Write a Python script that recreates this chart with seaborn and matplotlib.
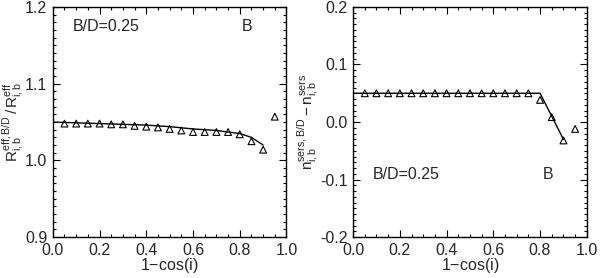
import numpy as np
import pandas as pd
import seaborn as sns
import matplotlib.pyplot as plt
from matplotlib.ticker import MultipleLocator

# Datos
x_tri = [0.05, 0.10, 0.15, 0.20, 0.25, 0.30, 0.35, 0.40, 0.45, 0.50,
         0.55, 0.60, 0.65, 0.70, 0.75, 0.80, 0.85, 0.90, 0.95]
r_tri = [1.048, 1.048, 1.048, 1.048, 1.047, 1.047, 1.045, 1.044, 1.043, 1.041,
         1.039, 1.037, 1.037, 1.037, 1.037, 1.034, 1.025, 1.014, 1.057]
n_tri = [0.05, 0.05, 0.05, 0.05, 0.05, 0.05, 0.05, 0.05, 0.05, 0.05,
         0.05, 0.05, 0.05, 0.05, 0.05, 0.0385, 0.0086, -0.032, -0.012]

x_r_line = [0.0, 0.1, 0.2, 0.3, 0.4, 0.5, 0.6, 0.7, 0.75, 0.8, 0.85, 0.9]
r_line = [1.050, 1.049, 1.048, 1.047, 1.046, 1.044, 1.041, 1.039, 1.037, 1.035, 1.030, 1.020]
x_n_line = [0.0, 0.8, 0.9]
n_line = [0.05, 0.05, -0.03]

sns.set_theme(style="ticks")
plt.rcParams["font.family"] = ["Liberation Sans", "DejaVu Sans"]
plt.rcParams["mathtext.fontset"] = "custom"
plt.rcParams["mathtext.rm"] = "Liberation Sans"
plt.rcParams["mathtext.it"] = "Liberation Sans"

fs = 11.5

fig, axes = plt.subplots(1, 2, figsize=(6.0, 2.78), dpi=100)
fig.subplots_adjust(left=0.088, right=0.978, bottom=0.147, top=0.975, wspace=0.285)

paneles = [
    (axes[0], x_r_line, r_line, r_tri, (0.9, 1.2),
     r"$\mathrm{R^{eff,B/D}_{i,b}\,/\,R^{eff}_{i,b}}$", (0.087, 0.915)),
    (axes[1], x_n_line, n_line, n_tri, (-0.2, 0.2),
     r"$\mathrm{n^{sers,B/D}_{i,b}-n^{sers}_{i,b}}$", (0.085, 0.27)),
]

for ax, xl, yl, ytri, ylim, ylab, pos in paneles:
    sns.lineplot(x=xl, y=yl, ax=ax, color="black", lw=1.0)
    sns.scatterplot(x=x_tri, y=ytri, ax=ax, marker="^", s=24,
                    facecolor="none", edgecolor="black", linewidth=0.8)
    ax.set_xlim(0, 1.0)
    ax.set_ylim(*ylim)
    ax.xaxis.set_major_locator(MultipleLocator(0.2))
    ax.xaxis.set_minor_locator(MultipleLocator(0.05))
    ax.yaxis.set_major_locator(MultipleLocator(0.1))
    ax.yaxis.set_minor_locator(MultipleLocator(0.01))
    ax.xaxis.set_major_formatter(plt.FormatStrFormatter("%.1f"))
    ax.yaxis.set_major_formatter(plt.FormatStrFormatter("%.1f"))
    ax.tick_params(which="both", direction="in", top=True, right=True,
                   labelsize=fs, color="black", width=0.8)
    ax.tick_params(which="major", length=5, pad=4)
    ax.tick_params(which="minor", length=2.5)
    for sp in ax.spines.values():
        sp.set_linewidth(1.0)
        sp.set_color("black")
    ax.set_xlabel("1$-$cos(i)", fontsize=fs, labelpad=-1)
    ax.set_ylabel(ylab, fontsize=fs - 0.5, labelpad=0)
    ax.text(pos[0], pos[1], "B/D=0.25", transform=ax.transAxes, fontsize=fs,
            ha="left", va="center")
    ax.text(0.81, pos[1], "B", transform=ax.transAxes, fontsize=fs,
            ha="left", va="center")

plt.savefig("out.png", dpi=100)
